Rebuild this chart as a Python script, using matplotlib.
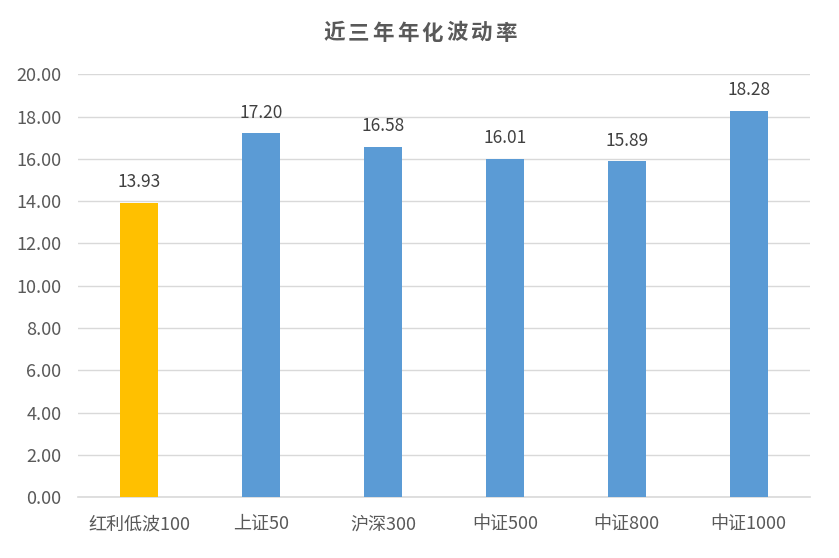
import matplotlib.pyplot as plt

plt.rcParams['font.family'] = ['Noto Sans CJK SC', 'DejaVu Sans']

# data
title = '近三年年化波动率'
categories = ['红利低波100', '上证50', '沪深300', '中证500', '中证800', '中证1000']
volatility = [13.93, 17.20, 16.58, 16.01, 15.89, 18.28]
bar_colors = ['#FFC000', '#5B9BD5', '#5B9BD5', '#5B9BD5', '#5B9BD5', '#5B9BD5']
y_ticks = [0, 2, 4, 6, 8, 10, 12, 14, 16, 18, 20]

W, H = 839, 558
fig = plt.figure(figsize=(W / 100, H / 100), dpi=100)
ax = fig.add_axes([0.093, 0.109, 0.872, 0.758])

x = range(len(categories))
bars = ax.bar(x, volatility, width=0.31, color=bar_colors, zorder=3)

# value labels above bars
for b, v in zip(bars, volatility):
    ax.annotate(f'{v:.2f}', (b.get_x() + b.get_width() / 2, v),
                xytext=(0, 8), textcoords='offset points',
                ha='center', va='bottom', fontsize=12.5, color='#404040')

ax.set_xlim(-0.5, len(categories) - 0.5)
ax.set_ylim(0, 20)
ax.set_yticks(y_ticks)
ax.set_yticklabels([f'{t:.2f}' for t in y_ticks])
ax.set_xticks(list(x))
ax.set_xticklabels(categories)

ax.grid(axis='y', color='#D9D9D9', linewidth=1, zorder=0)
for side in ['top', 'right', 'left']:
    ax.spines[side].set_visible(False)
ax.spines['bottom'].set_color('#D9D9D9')
ax.spines['bottom'].set_linewidth(1.2)
ax.tick_params(axis='both', length=0, labelsize=13, labelcolor='#595959')
ax.tick_params(axis='x', pad=13)
ax.tick_params(axis='y', pad=12)

# title with wide letter spacing, one character at a time
pitch = 24.5
start = 420 - pitch * (len(title) - 1) / 2
for i, ch in enumerate(title):
    fig.text((start + i * pitch) / W, 1 - 33 / H, ch, ha='center', va='center',
             fontsize=15.5, fontweight='bold', color='#595959')

fig.savefig('out.png', dpi=100)
